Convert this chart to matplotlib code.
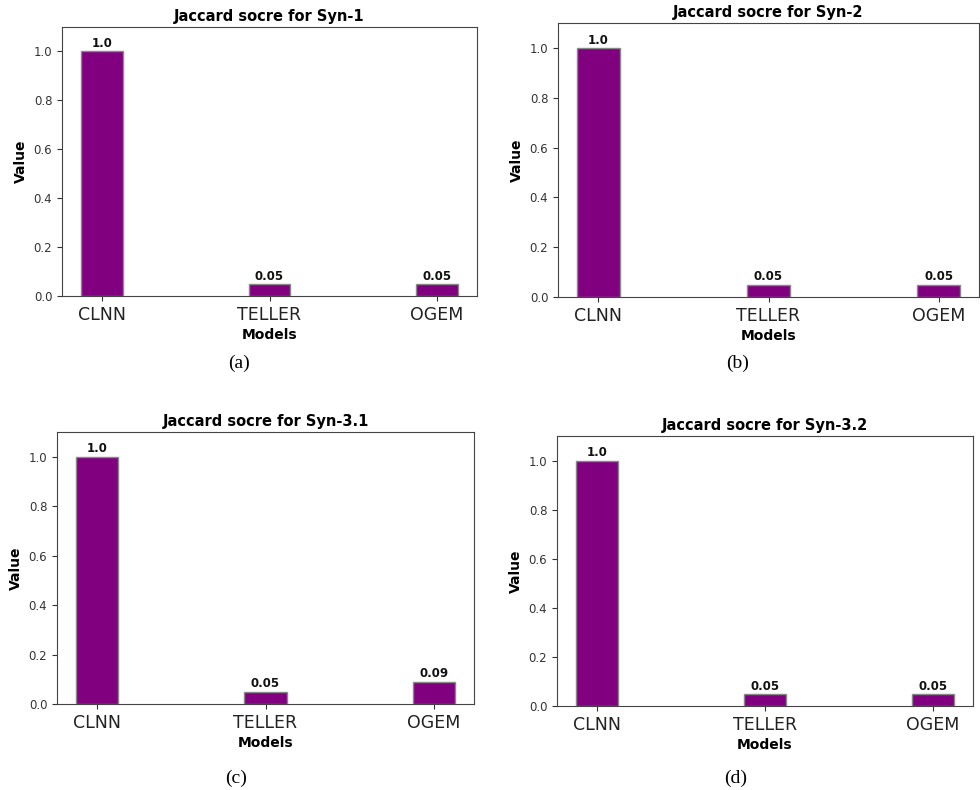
import matplotlib
matplotlib.use("Agg")
import matplotlib.pyplot as plt

models = ["CLNN", "TELLER", "OGEM"]
titles = ["Jaccard socre for Syn-1", "Jaccard socre for Syn-2",
          "Jaccard socre for Syn-3.1", "Jaccard socre for Syn-3.2"]
syn1 = [1.0, 0.05, 0.05]
syn2 = [1.0, 0.05, 0.05]
syn31 = [1.0, 0.05, 0.09]
syn32 = [1.0, 0.05, 0.05]
captions = ["(a)", "(b)", "(c)", "(d)"]
series = [syn1, syn2, syn31, syn32]

fig = plt.figure(figsize=(9.8, 7.9), dpi=100)

# axes rectangles [left, bottom, width, height] in figure fractions
rects = [
    [0.0633, 0.6253, 0.4234, 0.3405],
    [0.5694, 0.6241, 0.4296, 0.3468],
    [0.0582, 0.1089, 0.4255, 0.3443],
    [0.5684, 0.1063, 0.4245, 0.3418],
]
cap_pos = [(0.244, 0.5405), (0.753, 0.5405), (0.241, 0.0152), (0.751, 0.0152)]

for rect, vals, title, cap, cp in zip(rects, series, titles, captions, cap_pos):
    ax = fig.add_axes(rect)
    x = list(range(len(models)))
    bars = ax.bar(x, vals, width=0.25, color="#800080", edgecolor="#888888", linewidth=1.0)
    for b, v in zip(bars, vals):
        ax.text(b.get_x() + b.get_width() / 2, v + 0.005, str(v),
                ha="center", va="bottom", fontsize=8.5, fontweight="bold", color="#111111")
    ax.set_ylim(0, 1.1)
    ax.set_xticks(x)
    ax.set_xticklabels(models, fontsize=12.5, color="#222222")
    ax.tick_params(axis="y", labelsize=8.5, colors="#333333")
    ax.tick_params(axis="x", colors="#333333", labelcolor="#222222")
    ax.set_yticks([0.0, 0.2, 0.4, 0.6, 0.8, 1.0])
    ax.set_title(title, fontsize=10.5, fontweight="bold", pad=4)
    ax.set_xlabel("Models", fontsize=10, fontweight="bold", labelpad=3)
    ax.set_ylabel("Value", fontsize=10, fontweight="bold")
    for s in ax.spines.values():
        s.set_color("#444444")
    fig.text(cp[0], cp[1], cap, ha="center", va="center",
             fontsize=14, family="Liberation Serif")

fig.savefig("out.png", dpi=100)
